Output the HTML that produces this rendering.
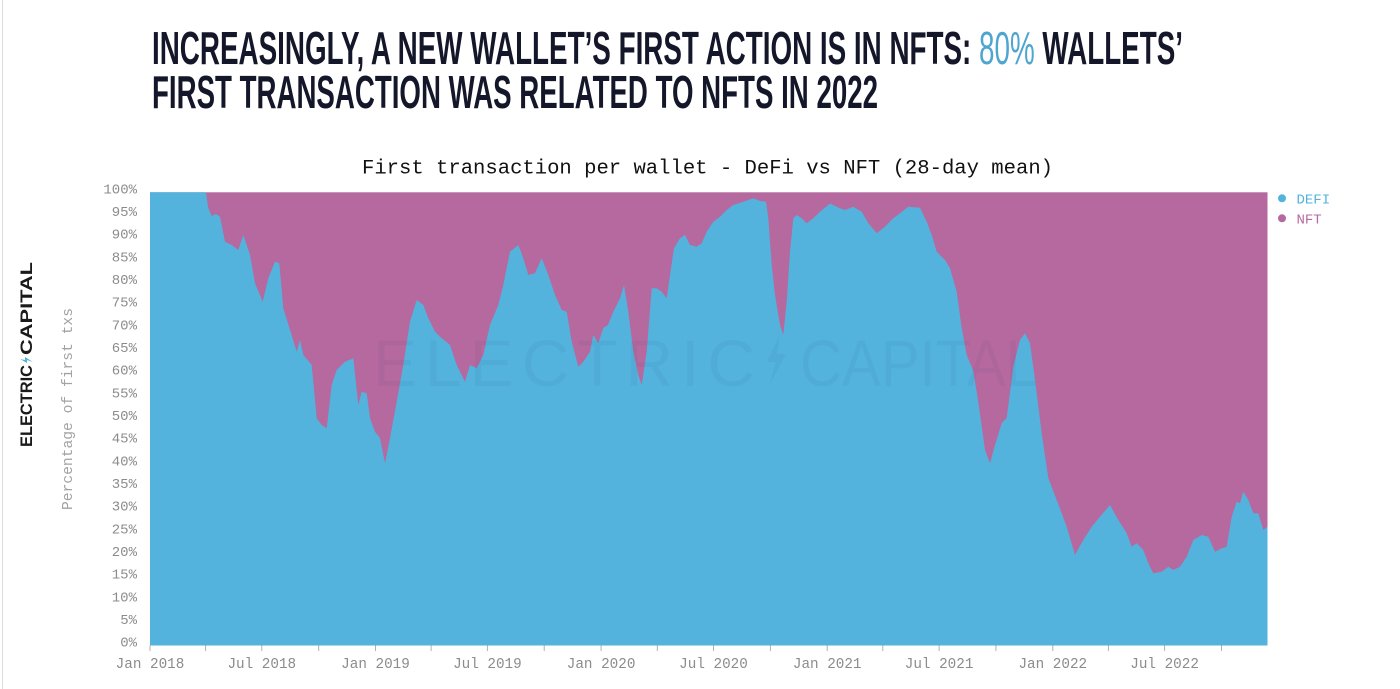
<!DOCTYPE html>
<html>
<head>
<meta charset="utf-8">
<style>
  html, body { margin: 0; padding: 0; background: #ffffff; }
  body { width: 1400px; height: 689px; overflow: hidden; }
  svg { display: block; }
</style>
</head>
<body>
<svg width="1400" height="689" viewBox="0 0 1400 689" xmlns="http://www.w3.org/2000/svg">
  <rect x="0" y="0" width="1400" height="689" fill="#ffffff"/>
  <line x1="2.5" y1="0" x2="2.5" y2="689" stroke="#dcdcdc" stroke-width="1"/>

  <!-- Title -->
  <text x="152" y="64" font-family="'Liberation Sans', sans-serif" font-weight="bold" font-size="46.5" fill="#14162a" textLength="1031" lengthAdjust="spacingAndGlyphs">INCREASINGLY, A NEW WALLET’S FIRST ACTION IS IN NFTS: <tspan fill="#4da6cf" font-weight="normal">80%</tspan> WALLETS’</text>
  <text x="152" y="108" font-family="'Liberation Sans', sans-serif" font-weight="bold" font-size="46.5" fill="#14162a" textLength="726" lengthAdjust="spacingAndGlyphs">FIRST TRANSACTION WAS RELATED TO NFTS IN 2022</text>

  <!-- Chart title -->
  <text x="362" y="173.5" font-family="'Liberation Mono', monospace" font-size="20" fill="#111111" textLength="691" lengthAdjust="spacingAndGlyphs">First transaction per wallet - DeFi vs NFT (28-day mean)</text>

  <!-- Left logo -->
  <g transform="translate(32,447) rotate(-90)">
    <text x="0" y="0" font-family="'Liberation Sans', sans-serif" font-weight="bold" font-size="17" fill="#1a1a1a" textLength="82" lengthAdjust="spacingAndGlyphs">ELECTRIC</text>
    <path d="M88,-12 L84,-5 L87,-5 L85,1 L90,-7 L87,-7 Z" fill="#4fb3dc"/>
    <text x="92" y="0" font-family="'Liberation Sans', sans-serif" font-weight="bold" font-size="17" fill="#1a1a1a" textLength="93" lengthAdjust="spacingAndGlyphs">CAPITAL</text>
  </g>

  <!-- Y axis title -->
  <g transform="translate(72,510) rotate(-90)">
    <text x="0" y="0" font-family="'Liberation Mono', monospace" font-size="14.5" fill="#a3a3a3" textLength="202" lengthAdjust="spacingAndGlyphs">Percentage of first txs</text>
  </g>

  <!-- Y tick labels -->
  <g font-family="'Liberation Mono', monospace" font-size="14" fill="#8c8c8c" text-anchor="end">
    <text x="137" y="193.3">100%</text>
    <text x="137" y="216.0">95%</text>
    <text x="137" y="238.6">90%</text>
    <text x="137" y="261.3">85%</text>
    <text x="137" y="284.0">80%</text>
    <text x="137" y="306.6">75%</text>
    <text x="137" y="329.3">70%</text>
    <text x="137" y="352.0">65%</text>
    <text x="137" y="374.6">60%</text>
    <text x="137" y="397.3">55%</text>
    <text x="137" y="420.0">50%</text>
    <text x="137" y="442.6">45%</text>
    <text x="137" y="465.3">40%</text>
    <text x="137" y="488.0">35%</text>
    <text x="137" y="510.6">30%</text>
    <text x="137" y="533.3">25%</text>
    <text x="137" y="556.0">20%</text>
    <text x="137" y="578.6">15%</text>
    <text x="137" y="601.3">10%</text>
    <text x="137" y="624.0">5%</text>
    <text x="137" y="646.6">0%</text>
  </g>

  <!-- Plot: NFT background -->
  <rect x="150" y="192.3" width="1117.5" height="453.2" fill="#b5699f"/>

  <!-- DeFi area -->
  <polygon fill="#53b3dd" points="
150,192.3 206,192.3 207,200 208.3,208 211.7,216 216,214 220,216.7 225,241.7 231.7,245 238.3,250 243.3,235 250,255 255,283.3 262.7,301.7 268.3,278.3 275,261.7 279.3,263.3 283.3,308.3 296.7,351.7 300,340 303.3,355 311.7,365 316.7,418.3 321.7,425 326.7,428.3 331.7,385 336.7,370 345,361.7 353.3,358.3 358.3,405 361.7,391.7 366.7,393.3 370,418 375,431.7 380,438 385,463.3 390,438 396.7,401.7 403.3,365 410,321.7 416.7,300 423.3,305 428.3,318.3 435,331.7 441.7,338.3 450,345 456.7,365 465,381.7 470,365 476.7,368.3 483.3,355 490,325 498.3,305 503.3,285 510,251.7 518.3,245 523.3,258.3 528.3,275 535,273.3 541.7,258.3 548.3,275 555,295 561.7,310 566.7,311.7 571.7,341.7 578.3,366.7 583.3,361.7 590,351.7 593.3,335 598.3,343.3 603.3,328 608,325 613.3,311.7 620,298.3 624,285 628.3,311.7 633.3,351.7 638.3,375 641.7,385 646.7,351.7 651.7,288.3 656.7,288.3 661.7,291.7 666.7,298.3 670,275 674,248.3 680,238.3 685,235 690,245 696.7,246.7 701.7,243.3 706.7,231.7 713.3,221.7 720,216.7 726.7,210 733.3,205 743.3,201.7 753.3,198.3 760,201 766,201.7 768.3,218.3 771.7,265 775,295 780,325 783.3,335 786.7,301.7 790,251.7 793.3,218.3 796.7,215 801.7,218.3 806.7,223.3 813.3,218.3 820,211.7 830,203.5 840,208.3 845,210 853.3,206.7 861.7,211.7 868.3,223.3 876.7,233.3 885,226.7 893.3,218.3 900,213.3 908.3,206.7 920,207.7 926.7,221.7 931.7,235 936.7,251.7 945,260 950,268.3 956.7,291.7 961.7,328.3 966.7,355 973.3,371 978.3,402 985,450 990,463.3 995,445 1001.7,423.3 1006.7,418 1013.3,366.7 1020,340 1025,333.3 1030,343.3 1035,380 1041.7,433.3 1048.3,478 1056.7,500 1066.7,526.7 1075,555 1083.3,540 1091.7,526.7 1100,516.7 1110,505 1118.3,520 1126.7,533.3 1131.7,546.7 1136.7,543.3 1143.3,550 1148.3,563.3 1153.3,573.3 1161.7,571.7 1168.3,566.7 1173.3,570 1180,566.7 1186.7,556.7 1193.3,540 1201.7,535 1208.3,536.7 1215,551.7 1221.7,548.3 1226.7,546.7 1231.7,516.7 1236.7,501.7 1240,503.3 1243.3,491.7 1248.3,500 1253.3,513.3 1258.3,513.3 1263.3,530 1267.5,526.7 1267.5,645.5 150,645.5"/>

  <!-- Watermark -->
  <g fill="#1a2a4a" opacity="0.045" font-family="'Liberation Sans', sans-serif" font-size="66">
    <text x="373" y="386" textLength="382" lengthAdjust="spacing">ELECTRIC</text>
    <path d="M780,334 L767,362 L776,362 L769,386 L786,354 L777,354 Z"/>
    <text x="800" y="386" textLength="238" lengthAdjust="spacingAndGlyphs">CAPITAL</text>
  </g>

  <!-- X ticks -->
  <g stroke="#b0b0b0" stroke-width="1">
    <line x1="150" y1="645.5" x2="150" y2="651"/>
    <line x1="205.6" y1="645.5" x2="205.6" y2="651"/>
    <line x1="261.8" y1="645.5" x2="261.8" y2="651"/>
    <line x1="318.7" y1="645.5" x2="318.7" y2="651"/>
    <line x1="375.5" y1="645.5" x2="375.5" y2="651"/>
    <line x1="431.1" y1="645.5" x2="431.1" y2="651"/>
    <line x1="487.4" y1="645.5" x2="487.4" y2="651"/>
    <line x1="544.2" y1="645.5" x2="544.2" y2="651"/>
    <line x1="601.1" y1="645.5" x2="601.1" y2="651"/>
    <line x1="657.3" y1="645.5" x2="657.3" y2="651"/>
    <line x1="713.5" y1="645.5" x2="713.5" y2="651"/>
    <line x1="770.4" y1="645.5" x2="770.4" y2="651"/>
    <line x1="827.2" y1="645.5" x2="827.2" y2="651"/>
    <line x1="882.8" y1="645.5" x2="882.8" y2="651"/>
    <line x1="939.1" y1="645.5" x2="939.1" y2="651"/>
    <line x1="995.9" y1="645.5" x2="995.9" y2="651"/>
    <line x1="1052.8" y1="645.5" x2="1052.8" y2="651"/>
    <line x1="1108.4" y1="645.5" x2="1108.4" y2="651"/>
    <line x1="1164.6" y1="645.5" x2="1164.6" y2="651"/>
    <line x1="1221.5" y1="645.5" x2="1221.5" y2="651"/>
  </g>

  <!-- X tick labels -->
  <g font-family="'Liberation Mono', monospace" font-size="14.3" fill="#8c8c8c" text-anchor="middle">
    <text x="150" y="668">Jan 2018</text>
    <text x="261.8" y="668">Jul 2018</text>
    <text x="375.5" y="668">Jan 2019</text>
    <text x="487.4" y="668">Jul 2019</text>
    <text x="601.1" y="668">Jan 2020</text>
    <text x="713.5" y="668">Jul 2020</text>
    <text x="827.2" y="668">Jan 2021</text>
    <text x="939.1" y="668">Jul 2021</text>
    <text x="1052.8" y="668">Jan 2022</text>
    <text x="1164.6" y="668">Jul 2022</text>
  </g>

  <!-- Legend -->
  <circle cx="1282" cy="198.3" r="4" fill="#53b3dd"/>
  <text x="1296.5" y="203.3" font-family="'Liberation Mono', monospace" font-size="14" fill="#53b3dd">DEFI</text>
  <circle cx="1282" cy="218.3" r="4" fill="#b5699f"/>
  <text x="1296.5" y="223.3" font-family="'Liberation Mono', monospace" font-size="14" fill="#b5699f">NFT</text>
</svg>
</body>
</html>
